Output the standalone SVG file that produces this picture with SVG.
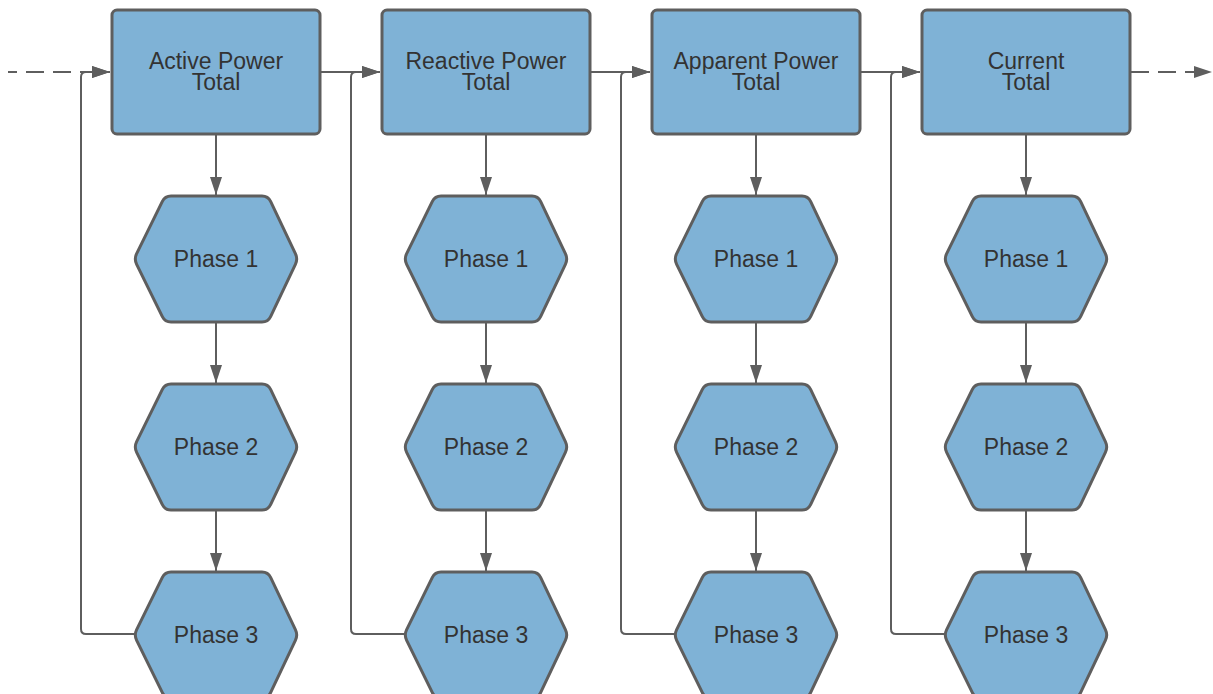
<svg xmlns="http://www.w3.org/2000/svg" width="1213" height="694" viewBox="0 0 1213 694">
<defs>
<style>
.box{fill:#7fb2d6;stroke:#5e5e5e;stroke-width:3}
.hex{fill:#7fb2d6;stroke:#5e5e5e;stroke-width:3;stroke-linejoin:round}
.t{font-family:"Liberation Sans",Arial,sans-serif;font-size:23px;fill:#333333;text-anchor:middle}
.c{fill:none;stroke:#5e5e5e;stroke-width:2}
.d{stroke-dasharray:18 9}
</style>
<marker id="ah" viewBox="0 0 18 12" refX="18" refY="6" markerWidth="18" markerHeight="12" markerUnits="userSpaceOnUse" orient="auto">
<path d="M0,0 L18,6 L0,12 Z" fill="#5e5e5e"/>
</marker>
<path id="hx" d="M-79.35,-5.4 L-53.65,-57.6 Q-51,-63 -45,-63 L46,-63 Q52,-63 54.6,-57.6 L79.4,-5.4 Q82,0 79.4,5.4 L54.6,57.6 Q52,63 46,63 L-45,63 Q-51,63 -53.65,57.6 L-79.35,5.4 Q-82,0 -79.35,-5.4 Z"/>
</defs>
<g id="connectors">
<path class="c d" d="M8,72 H110" stroke-dashoffset="9" marker-end="url(#ah)"/>
<path class="c d" d="M1131,72 H1212" marker-end="url(#ah)"/>
<path class="c" d="M320,72 H380" marker-end="url(#ah)"/>
<path class="c" d="M590,72 H650" marker-end="url(#ah)"/>
<path class="c" d="M860,72 H920" marker-end="url(#ah)"/>
<path class="c" d="M134,634 H86 Q81,634 81,629 V77 Q81,72 86,72 H110" marker-end="url(#ah)"/>
<path class="c" d="M404,634 H356 Q351,634 351,629 V77 Q351,72 356,72 H380" marker-end="url(#ah)"/>
<path class="c" d="M674,634 H626 Q621,634 621,629 V77 Q621,72 626,72 H650" marker-end="url(#ah)"/>
<path class="c" d="M944,634 H896 Q891,634 891,629 V77 Q891,72 896,72 H920" marker-end="url(#ah)"/>
<path class="c" d="M216,135 V195" marker-end="url(#ah)"/>
<path class="c" d="M216,322 V383" marker-end="url(#ah)"/>
<path class="c" d="M216,510 V571" marker-end="url(#ah)"/>
<path class="c" d="M486,135 V195" marker-end="url(#ah)"/>
<path class="c" d="M486,322 V383" marker-end="url(#ah)"/>
<path class="c" d="M486,510 V571" marker-end="url(#ah)"/>
<path class="c" d="M756,135 V195" marker-end="url(#ah)"/>
<path class="c" d="M756,322 V383" marker-end="url(#ah)"/>
<path class="c" d="M756,510 V571" marker-end="url(#ah)"/>
<path class="c" d="M1026,135 V195" marker-end="url(#ah)"/>
<path class="c" d="M1026,322 V383" marker-end="url(#ah)"/>
<path class="c" d="M1026,510 V571" marker-end="url(#ah)"/>
</g>
<g id="n-active"><rect class="box" x="112" y="10" width="208" height="124" rx="5"/><text class="t" x="216" y="69">Active Power</text><text class="t" x="216" y="90">Total</text></g>
<g id="n-reactive"><rect class="box" x="382" y="10" width="208" height="124" rx="5"/><text class="t" x="486" y="69">Reactive Power</text><text class="t" x="486" y="90">Total</text></g>
<g id="n-apparent"><rect class="box" x="652" y="10" width="208" height="124" rx="5"/><text class="t" x="756" y="69">Apparent Power</text><text class="t" x="756" y="90">Total</text></g>
<g id="n-current"><rect class="box" x="922" y="10" width="208" height="124" rx="5"/><text class="t" x="1026" y="69">Current</text><text class="t" x="1026" y="90">Total</text></g>
<g id="n-a1"><use href="#hx" class="hex" x="216" y="259"/><text class="t" x="216" y="267">Phase 1</text></g>
<g id="n-a2"><use href="#hx" class="hex" x="216" y="447"/><text class="t" x="216" y="455">Phase 2</text></g>
<g id="n-a3"><use href="#hx" class="hex" x="216" y="635"/><text class="t" x="216" y="643">Phase 3</text></g>
<g id="n-r1"><use href="#hx" class="hex" x="486" y="259"/><text class="t" x="486" y="267">Phase 1</text></g>
<g id="n-r2"><use href="#hx" class="hex" x="486" y="447"/><text class="t" x="486" y="455">Phase 2</text></g>
<g id="n-r3"><use href="#hx" class="hex" x="486" y="635"/><text class="t" x="486" y="643">Phase 3</text></g>
<g id="n-p1"><use href="#hx" class="hex" x="756" y="259"/><text class="t" x="756" y="267">Phase 1</text></g>
<g id="n-p2"><use href="#hx" class="hex" x="756" y="447"/><text class="t" x="756" y="455">Phase 2</text></g>
<g id="n-p3"><use href="#hx" class="hex" x="756" y="635"/><text class="t" x="756" y="643">Phase 3</text></g>
<g id="n-c1"><use href="#hx" class="hex" x="1026" y="259"/><text class="t" x="1026" y="267">Phase 1</text></g>
<g id="n-c2"><use href="#hx" class="hex" x="1026" y="447"/><text class="t" x="1026" y="455">Phase 2</text></g>
<g id="n-c3"><use href="#hx" class="hex" x="1026" y="635"/><text class="t" x="1026" y="643">Phase 3</text></g>
</svg>
